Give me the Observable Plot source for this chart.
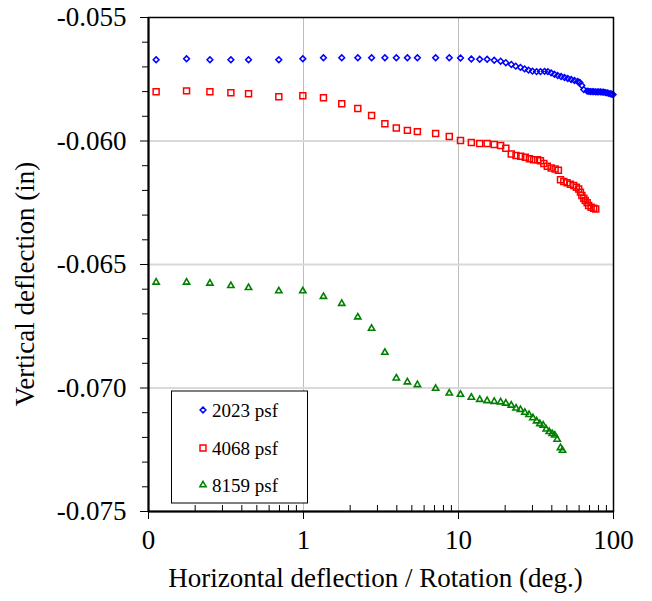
<!DOCTYPE html>
<html><head><meta charset="utf-8">
<script src="https://cdn.jsdelivr.net/npm/d3@7"></script>
<script src="https://cdn.jsdelivr.net/npm/@observablehq/plot@0.6"></script>
<style>html,body{margin:0;padding:0;background:#fff}svg{display:block}</style>
</head><body><div id="chart"></div>
<script>
const seriesNames = ["2023 psf", "4068 psf", "8159 psf"];
const seriesColors = ["#0000ff", "#ff0000", "#008000"];

const x2023 = [0.112,0.176,0.249,0.340,0.442,0.693,0.99,1.345,1.765,2.24,2.75,3.35,3.97,4.68,5.43,7.12,8.72,10.3,12.1,13.7,15.3,17.0,18.7,20.2,21.9,23.4,25.1,26.7,28.3,30.0,31.9,33.8,35.9,37.7,39.6,41.6,43.7,45.9,48.3,50.7,53.3,56.0,58.8,60.6,62.4,64.3,67.6,69.3,71.0,72.8,74.5,76.5,78.4,80.3,82.3,84.4,86.5,88.7,91.0,93.2,95.5,97.5,99.4];
const y2023 = [-0.05671,-0.05667,-0.05671,-0.05671,-0.05671,-0.05671,-0.05667,-0.05663,-0.05663,-0.05663,-0.05663,-0.05663,-0.05663,-0.05663,-0.05663,-0.05663,-0.05663,-0.05664,-0.05668,-0.05669,-0.05669,-0.05673,-0.05677,-0.05683,-0.05690,-0.05697,-0.05702,-0.05708,-0.05713,-0.05717,-0.05719,-0.05719,-0.05718,-0.05719,-0.05724,-0.05730,-0.05735,-0.05739,-0.05743,-0.05747,-0.05751,-0.05755,-0.05759,-0.05763,-0.05775,-0.05792,-0.05798,-0.05799,-0.05800,-0.05800,-0.05800,-0.05801,-0.05801,-0.05801,-0.05801,-0.05802,-0.05802,-0.05804,-0.05805,-0.05807,-0.05809,-0.05810,-0.05812];

const x4068 = [0.112,0.176,0.249,0.340,0.442,0.693,0.99,1.345,1.765,2.24,2.75,3.35,3.97,4.68,5.43,7.12,8.72,10.3,12.1,13.7,15.3,17.0,18.7,20.2,21.9,23.5,25.2,27.0,28.7,30.5,32.4,33.8,35.5,37.4,39.6,42.0,44.1,45.5,47.8,50.2,52.7,55.4,57.6,59.6,61.2,62.5,64.3,65.7,67.6,69.1,71.7,74.5,76.8];
const y4068 = [-0.05801,-0.05797,-0.05801,-0.05805,-0.05809,-0.05821,-0.05817,-0.05825,-0.05849,-0.05868,-0.05897,-0.05930,-0.05947,-0.05957,-0.05962,-0.05970,-0.05982,-0.05998,-0.06006,-0.06010,-0.06010,-0.06014,-0.06018,-0.06029,-0.06053,-0.06059,-0.06062,-0.06066,-0.06072,-0.06076,-0.06076,-0.06080,-0.06091,-0.06102,-0.06109,-0.06113,-0.06118,-0.06157,-0.06164,-0.06169,-0.06175,-0.06180,-0.06187,-0.06194,-0.06207,-0.06221,-0.06232,-0.06241,-0.06250,-0.06261,-0.06268,-0.06272,-0.06275];

const x8159 = [0.112,0.176,0.249,0.340,0.442,0.693,0.99,1.345,1.765,2.24,2.75,3.35,3.97,4.68,5.43,7.12,8.72,10.3,12.1,13.7,15.3,17.0,18.7,20.2,21.9,23.5,25.1,26.8,28.5,30.2,31.9,33.5,35.2,36.8,38.5,40.2,41.8,43.3,45.5,46.9];
const y8159 = [-0.06572,-0.06572,-0.06576,-0.06586,-0.06594,-0.06607,-0.06607,-0.06630,-0.06658,-0.06713,-0.06759,-0.06856,-0.06960,-0.06976,-0.06987,-0.07002,-0.07021,-0.07026,-0.07038,-0.07047,-0.07052,-0.07055,-0.07057,-0.07062,-0.07070,-0.07082,-0.07088,-0.07099,-0.07108,-0.07121,-0.07134,-0.07145,-0.07151,-0.07167,-0.07177,-0.07185,-0.07191,-0.07208,-0.07242,-0.07253];

const xTicks = [0.1, 1, 10, 100];
const xTickLabels = ["0", "1", "10", "100"];
const xMinor = [0.2,0.3,0.4,0.5,0.6,0.7,0.8,0.9,2,3,4,5,6,7,8,9,20,30,40,50,60,70,80,90];
const xGrid = [1, 10];
const yTicks = [-0.075, -0.070, -0.065, -0.060, -0.055];
const yMinor = [-0.074,-0.073,-0.072,-0.071,-0.069,-0.068,-0.067,-0.066,-0.064,-0.063,-0.062,-0.061,-0.059,-0.058,-0.057,-0.056];
const yGrid = [-0.070, -0.065, -0.060];
const xTitle = "Horizontal deflection / Rotation (deg.)";
const yTitle = "Vertical deflection (in)";

const toRows = (xs, ys) => xs.map((x, i) => ({x, y: ys[i]}));
const d2023 = toRows(x2023, y2023), d4068 = toRows(x4068, y4068), d8159 = toRows(x8159, y8159);

const W = 652, H = 601, mL = 148, mR = 39, mT = 17, mB = 90;
const innerH = H - mT - mB;
const FONT = "'Liberation Serif', 'Times New Roman', serif";

const plot = Plot.plot({
  width: W, height: H, marginLeft: mL, marginRight: mR, marginTop: mT, marginBottom: mB,
  style: {fontSize: "27px", color: "#000", background: "#fff", overflow: "visible"},
  x: {type: "log", domain: [0.1, 100], label: null},
  y: {domain: [-0.075, -0.055], label: null},
  marks: [
    Plot.ruleX(xGrid, {stroke: "#bdbdbd", strokeWidth: 1}),
    Plot.ruleY(yGrid, {stroke: "#d9d9d9", strokeWidth: 2}),
    Plot.dot(d2023, {x: "x", y: "y", symbol: "diamond2", r: 2.6, stroke: seriesColors[0], strokeWidth: 1.5, fill: "none"}),
    Plot.dot(d4068, {x: "x", y: "y", symbol: "square2", r: 3.8, stroke: seriesColors[1], strokeWidth: 1.5, fill: "none"}),
    Plot.dot(d8159, {x: "x", y: "y", symbol: "triangle2", r: 3.0, stroke: seriesColors[2], strokeWidth: 1.6, fill: "none"}),
    Plot.frame({stroke: "#000", strokeWidth: 1.5}),
    Plot.ruleX([0.1], {stroke: "#000", strokeWidth: 2}),
    Plot.ruleY([-0.075], {stroke: "#000", strokeWidth: 2}),
    Plot.tickX(xMinor, {x: d => d, insetTop: innerH - 6, stroke: "#000", strokeWidth: 1}),
    Plot.axisY(yMinor, {tickSize: 6, tickFormat: () => "", label: null, stroke: "#000"}),
    Plot.axisY(yTicks, {tickSize: 8, tickPadding: 14, tickFormat: d => d.toFixed(3), label: null, fontSize: 27, stroke: "#000"}),
    Plot.axisX(xTicks, {tickSize: 8, tickPadding: 10, tickFormat: d => xTickLabels[xTicks.indexOf(d)], label: null, fontSize: 27, stroke: "#000"})
  ]
});
document.getElementById("chart").appendChild(plot);

const svg = d3.select(plot);
// axis titles
svg.append("text").attr("x", (mL + W - mR) / 2 - 5).attr("y", 587)
  .attr("text-anchor", "middle").attr("font-size", 27).attr("fill", "#000").text(xTitle);
svg.append("text").attr("transform", "translate(34,284) rotate(-90)")
  .attr("text-anchor", "middle").attr("font-size", 27).attr("fill", "#000").text(yTitle);

// legend
const lg = svg.append("g");
lg.append("rect").attr("x", 171.5).attr("y", 391).attr("width", 136).attr("height", 112)
  .attr("fill", "#fff").attr("stroke", "#000").attr("stroke-width", 1);
const symbols = [d3.symbolDiamond2, d3.symbolSquare2, d3.symbolTriangle2];
const symR = [2.6, 3.8, 3.0];
const rowsY = [410, 448, 485];
seriesNames.forEach((name, i) => {
  lg.append("path").attr("transform", `translate(203,${rowsY[i]})`)
    .attr("d", d3.symbol(symbols[i], Math.PI * symR[i] * symR[i])())
    .attr("fill", "none").attr("stroke", seriesColors[i]).attr("stroke-width", 1.5);
  lg.append("text").attr("x", 212).attr("y", rowsY[i]).attr("dy", "0.35em")
    .attr("text-anchor", "start")
    .attr("font-size", 19).attr("fill", "#000").text(name);
});

// force the serif face on every text element (inline style beats Plot's stylesheet)
svg.style("font-family", FONT);
svg.selectAll("text").style("font-family", FONT).style("font-variant", "normal");
</script>
</body></html>
